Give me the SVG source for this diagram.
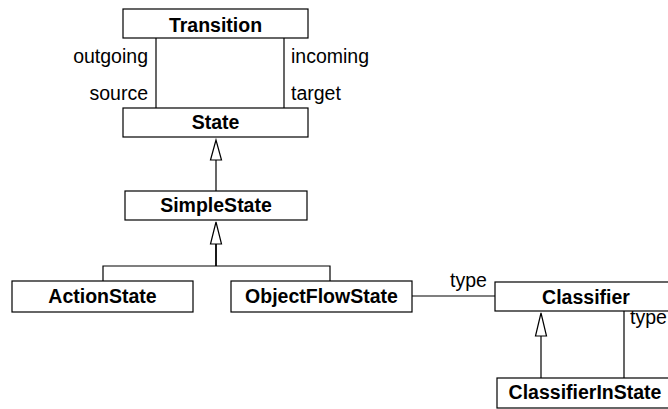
<svg xmlns="http://www.w3.org/2000/svg" width="668" height="409" viewBox="0 0 668 409">
<style>
.box{fill:#fff;stroke:#000;stroke-width:1.2}
.name{font-family:"Liberation Sans",Arial,sans-serif;font-weight:bold;font-size:19.5px;text-anchor:middle;fill:#000}
.lbl{font-family:"Liberation Sans",Arial,sans-serif;font-size:19.5px;fill:#000}
.ln{fill:none;stroke:#000;stroke-width:1.2}
.tri{fill:#fff;stroke:#000;stroke-width:1.2}
</style>
<rect width="668" height="409" fill="#fff"/>
<g id="connectors">
<line class="ln" x1="156" y1="38" x2="156" y2="108"/>
<line class="ln" x1="284" y1="38" x2="284" y2="108"/>
<text class="lbl" x="148" y="63" text-anchor="end">outgoing</text>
<text class="lbl" x="148" y="100" text-anchor="end">source</text>
<text class="lbl" x="291" y="63">incoming</text>
<text class="lbl" x="291" y="100">target</text>
<line class="ln" x1="216" y1="160" x2="216" y2="191"/>
<polygon class="tri" points="216,140 210.5,160 221.5,160"/>
<line class="ln" x1="216" y1="244" x2="216" y2="266" style="stroke-width:1.8"/>
<polygon class="tri" points="216,222 210.5,244 221.5,244"/>
<polyline class="ln" points="103,281 103,266 330,266 330,281"/>
<line class="ln" x1="412" y1="296" x2="495" y2="296"/>
<text class="lbl" x="450" y="287">type</text>
<line class="ln" x1="541" y1="336" x2="541" y2="378"/>
<polygon class="tri" points="541,313 535.5,336 546.5,336"/>
<line class="ln" x1="624" y1="311" x2="624" y2="378"/>
<text class="lbl" x="630" y="324">type</text>
</g>
<g id="Transition"><rect class="box" x="123" y="9" width="185" height="29"/><text class="name" x="215.5" y="31.5">Transition</text></g>
<g id="State"><rect class="box" x="123" y="108" width="185" height="29"/><text class="name" x="215.5" y="129">State</text></g>
<g id="SimpleState"><rect class="box" x="125" y="191" width="182" height="29"/><text class="name" x="216" y="212">SimpleState</text></g>
<g id="ActionState"><rect class="box" x="12" y="281" width="181" height="31"/><text class="name" x="102.5" y="303">ActionState</text></g>
<g id="ObjectFlowState"><rect class="box" x="231" y="281" width="181" height="31"/><text class="name" x="321.5" y="303">ObjectFlowState</text></g>
<g id="Classifier"><rect class="box" x="495" y="282" width="183" height="29"/><text class="name" x="586" y="304">Classifier</text></g>
<g id="ClassifierInState"><rect class="box" x="497" y="378" width="176" height="30"/><text class="name" x="585" y="399">ClassifierInState</text></g>
</svg>
